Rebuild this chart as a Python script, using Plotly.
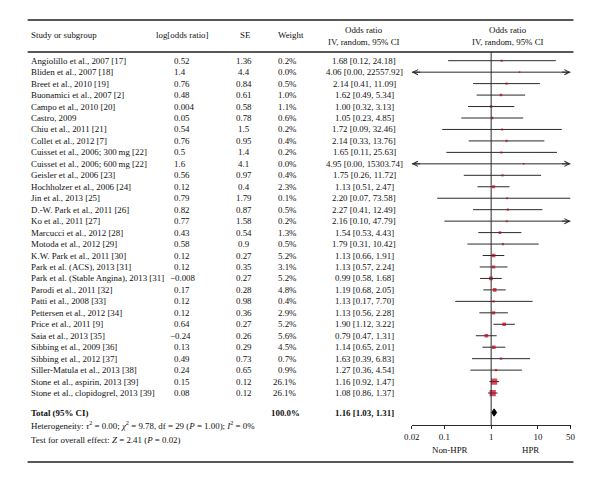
import plotly.graph_objects as go
import math

studies = [
    "Angiolillo et al., 2007 [17]", "Bliden et al., 2007 [18]", "Breet et al., 2010 [19]",
    "Buonamici et al., 2007 [2]", "Campo et al., 2010 [20]", "Castro, 2009",
    "Chiu et al., 2011 [21]", "Collet et al., 2012 [7]", "Cuisset et al., 2006; 300\u2009mg [22]",
    "Cuisset et al., 2006; 600\u2009mg [22]", "Geisler et al., 2006 [23]", "Hochholzer et al., 2006 [24]",
    "Jin et al., 2013 [25]", "D.-W. Park et al., 2011 [26]", "Ko et al., 2011 [27]",
    "Marcucci et al., 2012 [28]", "Motoda et al., 2012 [29]", "K.W. Park et al., 2011 [30]",
    "Park et al. (ACS), 2013 [31]", "Park et al. (Stable Angina), 2013 [31]", "Parodi et al., 2011 [32]",
    "Patti et al., 2008 [33]", "Pettersen et al., 2012 [34]", "Price et al., 2011 [9]",
    "Saia et al., 2013 [35]", "Sibbing et al., 2009 [36]", "Sibbing et al., 2012 [37]",
    "Siller-Matula et al., 2013 [38]", "Stone et al., aspirin, 2013 [39]", "Stone et al., clopidogrel, 2013 [39]",
]
log_or = ["0.52", "1.4", "0.76", "0.48", "0.004", "0.05", "0.54", "0.76", "0.5", "1.6", "0.56", "0.12",
          "0.79", "0.82", "0.77", "0.43", "0.58", "0.12", "0.12", "\u22120.008", "0.17", "0.12", "0.12",
          "0.64", "\u22120.24", "0.13", "0.49", "0.24", "0.15", "0.08"]
se = ["1.36", "4.4", "0.84", "0.61", "0.58", "0.78", "1.5", "0.95", "1.4", "4.1", "0.97", "0.4", "1.79",
      "0.87", "1.58", "0.54", "0.9", "0.27", "0.35", "0.27", "0.28", "0.98", "0.36", "0.27", "0.26",
      "0.29", "0.73", "0.65", "0.12", "0.12"]
weight = [0.2, 0.0, 0.5, 1.0, 1.1, 0.6, 0.2, 0.4, 0.2, 0.0, 0.4, 2.3, 0.1, 0.5, 0.2, 1.3, 0.5, 5.2, 3.1,
          5.2, 4.8, 0.4, 2.9, 5.2, 5.6, 4.5, 0.7, 0.9, 26.1, 26.1]
odds = [1.68, 4.06, 2.14, 1.62, 1.00, 1.05, 1.72, 2.14, 1.65, 4.95, 1.75, 1.13, 2.20, 2.27, 2.16, 1.54,
        1.79, 1.13, 1.13, 0.99, 1.19, 1.13, 1.13, 1.90, 0.79, 1.14, 1.63, 1.27, 1.16, 1.08]
ci_lo = [0.12, 0.00, 0.41, 0.49, 0.32, 0.23, 0.09, 0.33, 0.11, 0.00, 0.26, 0.51, 0.07, 0.41, 0.10, 0.53,
         0.31, 0.66, 0.57, 0.58, 0.68, 0.17, 0.56, 1.12, 0.47, 0.65, 0.39, 0.36, 0.92, 0.86]
ci_hi = [24.18, 22557.92, 11.09, 5.34, 3.13, 4.85, 32.46, 13.76, 25.63, 15303.74, 11.72, 2.47, 73.58,
         12.49, 47.79, 4.43, 10.42, 1.91, 2.24, 1.68, 2.05, 7.70, 2.28, 3.22, 1.31, 2.01, 6.83, 4.54,
         1.47, 1.37]
arrow_left = [False, True, False, False, False, False, False, False, False, True] + [False] * 20
arrow_right = [False, True, False, False, False, False, False, False, False, True, False, False, False,
               False, True] + [False] * 15
total_or, total_lo, total_hi = 1.16, 1.03, 1.31
total_weight = "100.0%"
tick_vals = [0.02, 0.1, 1, 10, 50]
tick_text = ["0.02", "0.1", "1", "10", "50"]
x_min, x_max = 0.02, 50

W, H = 600, 483
ROW0, ROWH = 60.7, 11.46
def row(py):
    return (py - ROW0) / ROWH
def yp(py):
    return 1 - py / H

FONT = "Liberation Serif"
FS = 8.9
TXT = "#111111"
LINE = "#2a2a2a"
fig = go.Figure()

n = len(studies)
ys = list(range(n))

# CI lines
lx, ly = [], []
for i in range(n):
    lo = x_min if (arrow_left[i] or ci_lo[i] < x_min) else ci_lo[i]
    hi = x_max if (arrow_right[i] or ci_hi[i] > x_max) else ci_hi[i]
    lx += [lo, hi, None]
    ly += [i, i, None]
fig.add_trace(go.Scatter(x=lx, y=ly, mode="lines", line=dict(color=LINE, width=1),
                         hoverinfo="skip", showlegend=False))
# point estimates
sizes = [1.6 + 0.9 * math.sqrt(w) for w in weight]
fig.add_trace(go.Scatter(x=odds, y=ys, mode="markers",
                         marker=dict(symbol="square", size=sizes, color="#c00018", line=dict(width=0)),
                         showlegend=False, hoverinfo="skip"))
# total diamond
ty = row(412.5)
dh = 0.32
fig.add_trace(go.Scatter(x=[total_lo, total_or, total_hi, total_or, total_lo],
                         y=[ty, ty - dh, ty, ty + dh, ty], mode="lines", fill="toself",
                         fillcolor="#000", line=dict(color="#000", width=1),
                         showlegend=False, hoverinfo="skip"))

ann = []
def T(x, y, text, anchor="left", size=FS, bold=False):
    if bold:
        text = "<b>" + text + "</b>"
    ann.append(dict(x=x / W, xref="paper", y=y, yref="y", text=text, showarrow=False,
                    xanchor=anchor, yanchor="middle", font=dict(family=FONT, size=size, color=TXT)))

# arrows for truncated confidence intervals
for i in range(n):
    if arrow_left[i]:
        ann.append(dict(x=math.log10(x_min), xref="x", y=i, yref="y", text="", showarrow=True,
                        ax=10, ay=0, arrowhead=5, arrowsize=1, arrowwidth=1, arrowcolor=LINE))
    if arrow_right[i]:
        ann.append(dict(x=math.log10(x_max), xref="x", y=i, yref="y", text="", showarrow=True,
                        ax=-10, ay=0, arrowhead=5, arrowsize=1, arrowwidth=1, arrowcolor=LINE))

for i in range(n):
    T(21, i, studies[i])
    T(168 if not log_or[i].startswith("\u2212") else 163.5, i, log_or[i])
    T(241, i, se[i], "center")
    T(297, i, f"{weight[i]:.1f}%", "right")
    T(364, i, f"{odds[i]:.2f} [{ci_lo[i]:.2f}, {ci_hi[i]:.2f}]", "center")

# headers
HS = 8.9
T(21, row(35), "Study or subgroup", size=HS)
T(178, row(35), "log[odds ratio]", "center", size=HS)
T(242, row(35), "SE", "center", size=HS)
T(289, row(35), "Weight", "center", size=HS)
T(364, row(30), "Odds ratio", "center", size=HS)
T(364, row(42), "IV, random, 95% CI", "center", size=HS)
T(511, row(30), "Odds ratio", "center", size=HS)
T(511, row(42), "IV, random, 95% CI", "center", size=HS)

# total
T(21, ty, "Total (95% CI)", bold=True)
T(300, ty, total_weight, "right", bold=True)
T(364, ty, f"{total_or:.2f} [{total_lo:.2f}, {total_hi:.2f}]", "center", bold=True)
T(21, row(425), "Heterogeneity: <i>\u03c4</i><sup>2</sup> = 0.00; <i>\u03c7</i><sup>2</sup> = 9.78, df = 29 (<i>P</i> = 1.00); <i>I</i><sup>2</sup> = 0%")
T(21, row(440), "Test for overall effect: <i>Z</i> = 2.41 (<i>P</i> = 0.02)")
T(452, row(450), "Non-HPR", "center")
T(534, row(450), "HPR", "center")

shapes = []
for py in [20, 52, 462]:
    shapes.append(dict(type="line", xref="paper", yref="paper", x0=20 / W, x1=578 / W,
                       y0=yp(py), y1=yp(py), line=dict(color="#222", width=1.5)))
shapes.append(dict(type="line", xref="x", yref="paper", x0=1, x1=1, y0=yp(425), y1=yp(52),
                   line=dict(color=LINE, width=1)))

fig.update_layout(
    width=W, height=H, margin=dict(l=0, r=0, t=0, b=0),
    paper_bgcolor="white", plot_bgcolor="rgba(0,0,0,0)",
    annotations=ann, shapes=shapes,
    xaxis=dict(type="log", range=[math.log10(x_min), math.log10(x_max)],
               domain=[412.7 / W, 575 / W], anchor="free", position=yp(425),
               showline=True, linecolor=LINE, linewidth=1, ticks="outside", ticklen=3,
               tickcolor=LINE, tickvals=tick_vals, ticktext=tick_text, showgrid=False,
               zeroline=False, tickfont=dict(family=FONT, size=FS, color=TXT)),
    yaxis=dict(range=[row(H), row(0)], domain=[0, 1], visible=False, showgrid=False),
    showlegend=False,
)
fig.write_html("out.html", config={"displayModeBar": False},
               post_script="document.body.style.margin='0';")
